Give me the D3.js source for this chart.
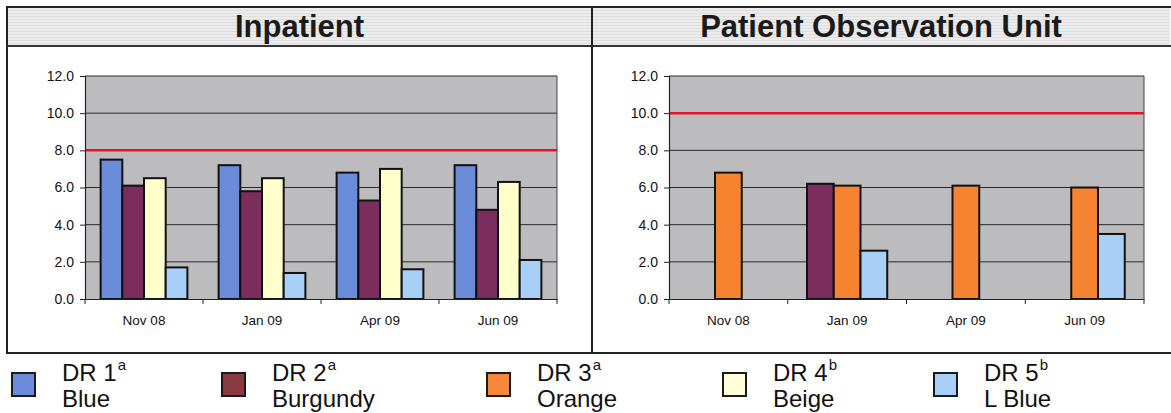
<!DOCTYPE html>
<html><head><meta charset="utf-8">
<script src="https://cdn.jsdelivr.net/npm/d3@7"></script>
<style>
html,body{margin:0;padding:0;background:#fff;}
svg{display:block;font-family:Arial,"Liberation Sans",sans-serif;}
</style></head>
<body>
<svg id="c" width="1171" height="413"></svg>
<script>
// ---- data ----
const categories = ["Nov 08", "Jan 09", "Apr 09", "Jun 09"];
const yTicks = [0, 2, 4, 6, 8, 10, 12];

const inpatientSeries = ["DR 1", "DR 2", "DR 4", "DR 5"];
const inpDR1 = [7.5, 7.2, 6.8, 7.2];
const inpDR2 = [6.1, 5.8, 5.3, 4.8];
const inpDR4 = [6.5, 6.5, 7.0, 6.3];
const inpDR5 = [1.7, 1.4, 1.6, 2.1];
const inpatientTarget = 8.0;

const observationSeries = ["DR 2", "DR 3", "DR 5"];
const obsDR2 = [null, 6.2, null, null];
const obsDR3 = [6.8, 6.1, 6.1, 6.0];
const obsDR5 = [null, 2.6, null, 3.5];
const observationTarget = 10.0;

const panelTitles = ["Inpatient", "Patient Observation Unit"];

const legendNames = ["DR 1", "DR 2", "DR 3", "DR 4", "DR 5"];
const legendSup = ["a", "a", "a", "b", "b"];
const legendColorNames = ["Blue", "Burgundy", "Orange", "Beige", "L Blue"];

// ---- styles ----
const barColor = {"DR 1": "#6b8cd8", "DR 2": "#7b2d5d", "DR 3": "#f6832f", "DR 4": "#ffffcc", "DR 5": "#a8cff5"};
const legendColor = {"DR 1": "#6b8cd8", "DR 2": "#8a3a3e", "DR 3": "#f6873a", "DR 4": "#ffffd8", "DR 5": "#a8cff5"};
const FONT = "Arial, 'Liberation Sans', sans-serif";

const svg = d3.select("#c");
const defs = svg.append("defs");
const pat = defs.append("pattern").attr("id", "band").attr("width", 6).attr("height", 3).attr("patternUnits", "userSpaceOnUse");
pat.append("rect").attr("width", 6).attr("height", 3).attr("fill", "#ececec");
pat.append("rect").attr("y", 1).attr("width", 6).attr("height", 1).attr("fill", "#dedede");

// frame
const frameL = 7, frameR = 1170, frameT = 7, frameB = 353, bandB = 46, divX = 592;
svg.append("rect").attr("x", frameL).attr("y", frameT).attr("width", frameR - frameL).attr("height", bandB - frameT).attr("fill", "url(#band)");

const panels = [
  {title: panelTitles[0], series: inpatientSeries, values: {"DR 1": inpDR1, "DR 2": inpDR2, "DR 4": inpDR4, "DR 5": inpDR5}, target: inpatientTarget, x0: 85, x1: 557, cx: (frameL + divX) / 2},
  {title: panelTitles[1], series: observationSeries, values: {"DR 2": obsDR2, "DR 3": obsDR3, "DR 5": obsDR5}, target: observationTarget, x0: 669, x1: 1144, cx: (divX + frameR) / 2}
];
const yTop = 76, yBot = 299;

panels.forEach(p => {
  const g = svg.append("g");
  g.append("text").attr("x", p.cx).attr("y", 37).attr("text-anchor", "middle")
    .attr("font-size", 31).attr("font-weight", "bold").attr("fill", "#1a1a1a").attr("font-family", FONT).text(p.title);

  const y = d3.scaleLinear().domain([0, 12]).range([yBot, yTop]);
  const x0 = d3.scaleBand().domain(categories).range([p.x0, p.x1]).padding(0);
  const x1 = d3.scaleBand().domain(p.series).range([0, x0.bandwidth()]).paddingInner(0).paddingOuter(0.72);

  // plot background
  g.append("rect").attr("x", p.x0).attr("y", yTop).attr("width", p.x1 - p.x0).attr("height", yBot - yTop)
    .attr("fill", "#bcbcbf");
  // gridlines
  g.append("g").selectAll("line").data(yTicks.filter(t => t > 0)).join("line")
    .attr("x1", p.x0).attr("x2", p.x1).attr("y1", d => y(d)).attr("y2", d => y(d))
    .attr("stroke", "#2a2a2a").attr("stroke-width", 1);
  // right border
  g.append("line").attr("x1", p.x1).attr("x2", p.x1).attr("y1", yTop).attr("y2", yBot).attr("stroke", "#444").attr("stroke-width", 1);

  // bars
  const data = [];
  categories.forEach((c, i) => p.series.forEach(s => {
    const v = p.values[s][i];
    if (v != null) data.push({c, s, v});
  }));
  g.append("g").selectAll("rect").data(data).join("rect")
    .attr("x", d => x0(d.c) + x1(d.s)).attr("width", x1.bandwidth())
    .attr("y", d => y(d.v)).attr("height", d => y(0) - y(d.v))
    .attr("fill", d => barColor[d.s]).attr("stroke", "#111").attr("stroke-width", 2);

  // target line
  g.append("line").attr("x1", p.x0).attr("x2", p.x1).attr("y1", y(p.target)).attr("y2", y(p.target))
    .attr("stroke", "#e3132b").attr("stroke-width", 2.5);

  // y axis
  const ya = d3.axisLeft(y).tickValues(yTicks).tickFormat(d3.format(".1f")).tickSize(5).tickPadding(6);
  const yg = g.append("g").attr("transform", `translate(${p.x0},0)`).call(ya);
  yg.select(".domain").attr("stroke", "#222").attr("stroke-width", 1.2);
  yg.selectAll(".tick line").attr("stroke", "#222");
  yg.selectAll("text").attr("font-size", 14).attr("fill", "#111").attr("font-family", FONT);

  // x axis
  const xa = d3.axisBottom(x0).tickSize(0).tickPadding(16);
  const xg = g.append("g").attr("transform", `translate(0,${yBot})`).call(xa);
  xg.select(".domain").attr("stroke", "#222").attr("stroke-width", 1.2);
  xg.selectAll("text").attr("font-size", 13.5).attr("fill", "#111").attr("font-family", FONT);
  // boundary ticks
  const bounds = categories.map(c => x0(c)).concat([p.x1]);
  g.append("g").selectAll("line").data(bounds).join("line")
    .attr("x1", d => d).attr("x2", d => d).attr("y1", yBot).attr("y2", yBot + 5)
    .attr("stroke", "#222").attr("stroke-width", 1);
});

// frame lines
svg.append("rect").attr("x", frameL).attr("y", frameT).attr("width", frameR - frameL + 4).attr("height", frameB - frameT)
  .attr("fill", "none").attr("stroke", "#222").attr("stroke-width", 2);
svg.append("line").attr("x1", frameL).attr("x2", frameR + 4).attr("y1", bandB).attr("y2", bandB).attr("stroke", "#333").attr("stroke-width", 2);
svg.append("line").attr("x1", divX).attr("x2", divX).attr("y1", frameT).attr("y2", frameB).attr("stroke", "#222").attr("stroke-width", 2);

// legend
const legendX = [12, 222, 487, 723, 934];
const lg = svg.append("g").attr("font-family", FONT);
legendNames.forEach((n, i) => {
  const gx = legendX[i];
  lg.append("rect").attr("x", gx).attr("y", 373).attr("width", 23).attr("height", 23)
    .attr("fill", legendColor[n]).attr("stroke", "#1a1a1a").attr("stroke-width", 2);
  const t = lg.append("text").attr("x", gx + 50).attr("y", 381).attr("font-size", 24).attr("fill", "#111");
  t.append("tspan").text(n);
  t.append("tspan").attr("font-size", 15).attr("dy", -11).attr("dx", 1).text(legendSup[i]);
  lg.append("text").attr("x", gx + 50).attr("y", 407).attr("font-size", 24).attr("fill", "#111").text(legendColorNames[i]);
});
</script>
</body></html>
